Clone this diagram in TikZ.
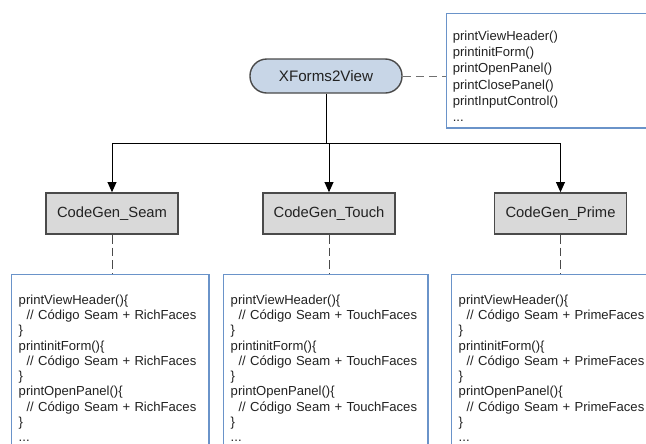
\documentclass[tikz,border=0pt]{standalone}
\usepackage{fontspec}
\setmainfont{Liberation Sans}
\usetikzlibrary{arrows.meta}
\definecolor{pillblue}{HTML}{C8D6E7}
\definecolor{boxgray}{HTML}{D9D9D9}
\definecolor{edgegray}{HTML}{4A4A4A}
\definecolor{noteblue}{HTML}{6A93C9}
\definecolor{dashgray}{HTML}{707070}
\definecolor{inkgray}{HTML}{222222}
\begin{document}
\begin{tikzpicture}[x=0.025cm,y=-0.025cm,line width=0.7pt,text=inkgray,>={Triangle[length=2.5mm,width=2.2mm]},
pill/.style = {draw=edgegray, fill=pillblue, line width=1pt, rounded corners=4.2mm, minimum width=3.8cm, minimum height=0.85cm, font=\fontsize{10.8}{13}\selectfont},
gen/.style = {draw=edgegray, fill=boxgray, line width=1pt, minimum width=3.3cm, minimum height=1.03cm, font=\fontsize{10.5}{13}\selectfont},
note/.style = {draw=noteblue, fill=white, line width=1pt, anchor=north west, align=left, text width=6cm, inner xsep=4.3pt, inner ysep=4.6pt, text height=14.3pt, font=\fontsize{9.3}{11.55}\selectfont},
code/.style = {draw=noteblue, fill=white, line width=1pt, anchor=north west, align=left, inner xsep=5pt, inner ysep=8pt, text height=13pt, font=\fontsize{9.3}{10.85}\selectfont},
link/.style = {draw=dashgray, dash pattern=on 2mm off 1.3mm},
drop/.style = {draw=edgegray, dash pattern=on 2.2mm off 1mm},]
\useasboundingbox (0,0) rectangle (646,443);
\clip (0,0) rectangle (646,443);
\node (view) at (326,76)[pill] {XForms2View};
\node (api) at (446,13)[note] {printViewHeader()\\printinitForm()\\printOpenPanel()\\printClosePanel()\\printInputControl()\\...};
\node (seam) at (112,213.5)[gen] {CodeGen\_Seam};
\node (touch) at (329,213.5)[gen] {CodeGen\_Touch};
\node (prime) at (560.5,213.5)[gen] {CodeGen\_Prime};
\node (seamcode) at (11,274)[code,text width=130.4pt] {printViewHeader()\{\\\hspace*{5.6pt}// Código Seam + RichFaces\\\}\\printinitForm()\{\\\hspace*{5.6pt}// Código Seam + RichFaces\\\}\\printOpenPanel()\{\\\hspace*{5.6pt}// Código Seam + RichFaces\\\}\\...};
\node (touchcode) at (223,274)[code,text width=135.3pt] {printViewHeader()\{\\\hspace*{5.6pt}// Código Seam + TouchFaces\\\}\\printinitForm()\{\\\hspace*{5.6pt}// Código Seam + TouchFaces\\\}\\printOpenPanel()\{\\\hspace*{5.6pt}// Código Seam + TouchFaces\\\}\\...};
\node (primecode) at (451,274)[code,text width=160pt] {printViewHeader()\{\\\hspace*{5.6pt}// Código Seam + PrimeFaces\\\}\\printinitForm()\{\\\hspace*{5.6pt}// Código Seam + PrimeFaces\\\}\\printOpenPanel()\{\\\hspace*{5.6pt}// Código Seam + PrimeFaces\\\}\\...};
\coordinate (bus) at (326,143);
\draw (view)--(bus);
\draw (bus -| seam)--(bus -| prime);
\draw[->] (bus -| seam)--(seam);
\draw[->] (bus -| touch)--(touch);
\draw[->] (bus -| prime)--(prime);
\draw[link] (view.east)--(view.east -| api.west);
\draw[drop] (seam.south)--(seam.south |- seamcode.north);
\draw[drop] (touch.south)--(touch.south |- touchcode.north);
\draw[drop] (prime.south)--(prime.south |- primecode.north);
\end{tikzpicture}
\end{document}
